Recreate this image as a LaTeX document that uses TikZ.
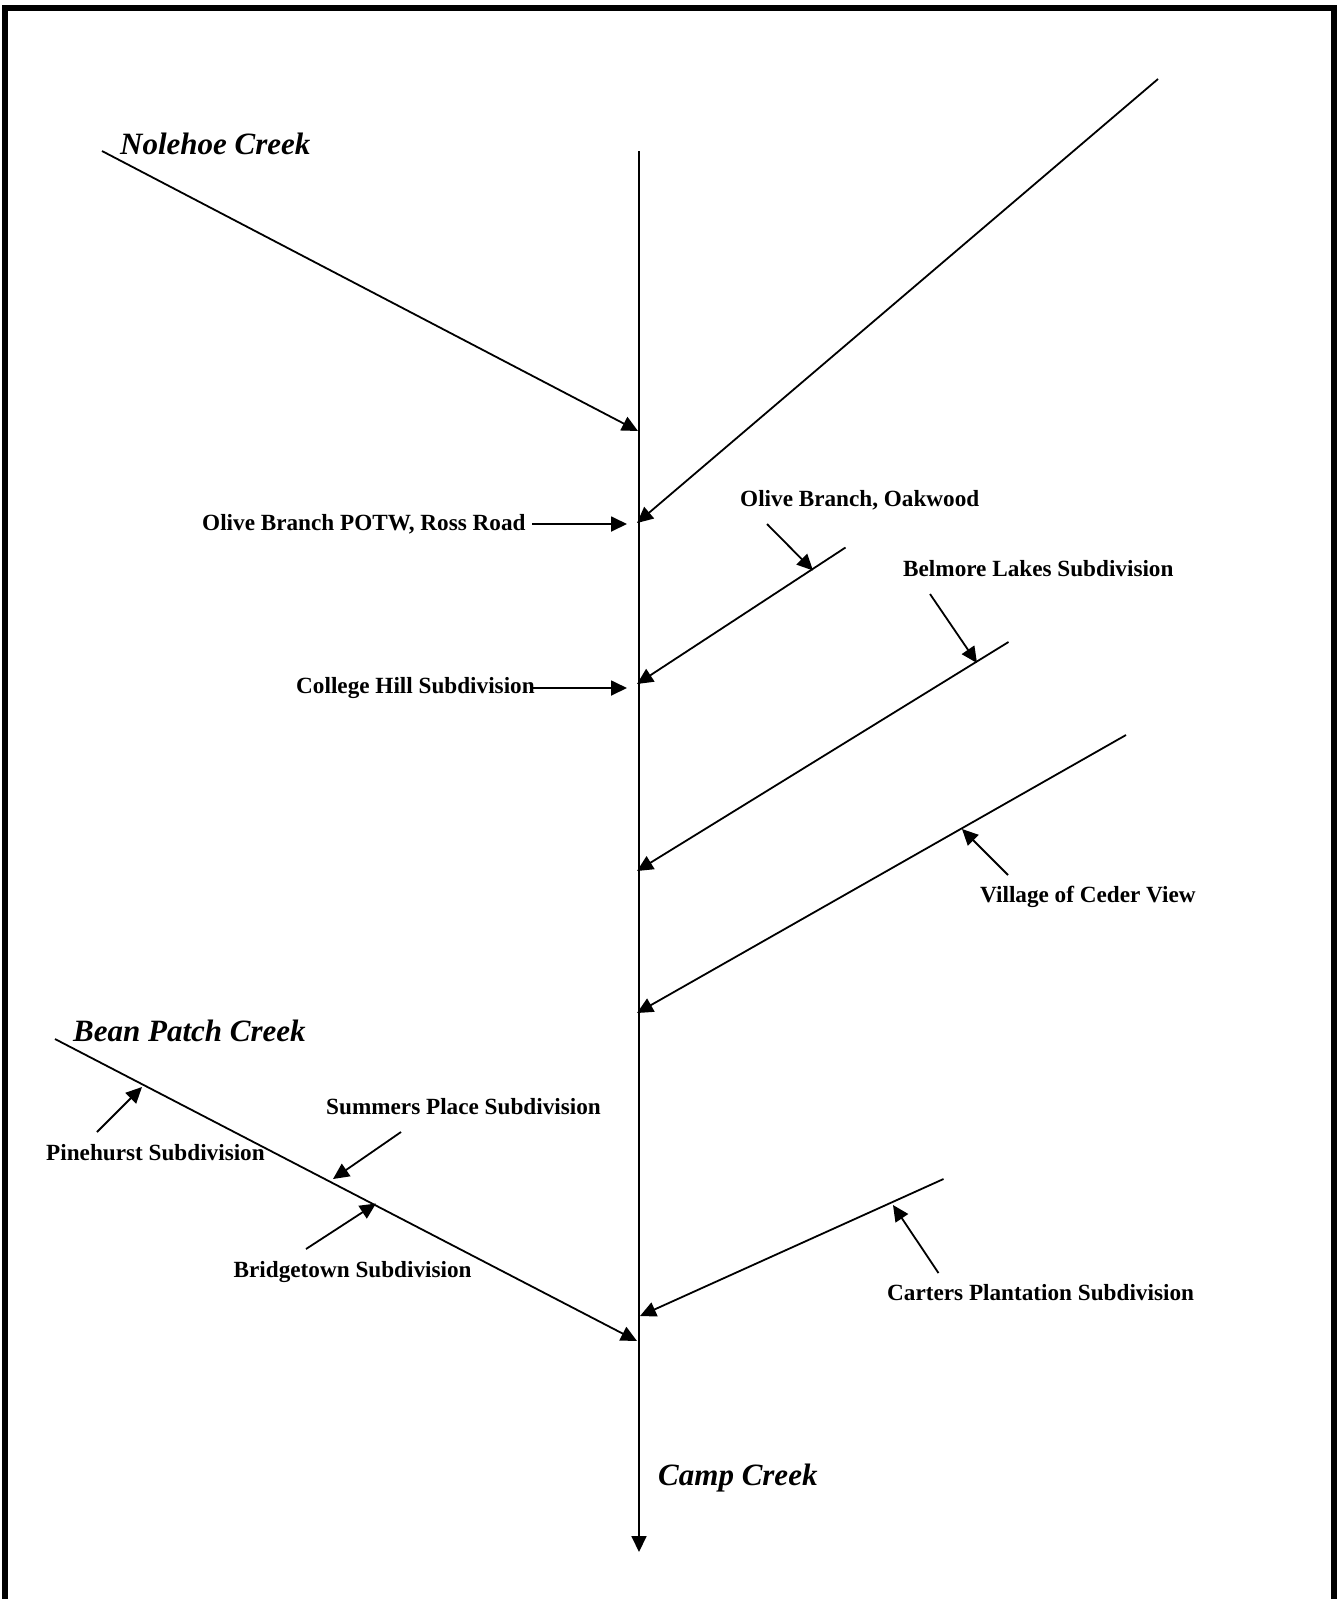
\documentclass[tikz,border=0pt]{standalone}
\usepackage{fontspec}
\setmainfont{Liberation Serif}
\usetikzlibrary{arrows.meta}
\begin{document}
\begin{tikzpicture}[x=1pt,y=-1pt,
  flow/.style={line width=1.8pt, -{Triangle[length=16pt,width=15pt]}},
  lbl/.style={font=\bfseries\fontsize{23.2}{28}\selectfont, inner sep=0pt, anchor=base west},
  creek/.style={font=\bfseries\itshape\fontsize{31}{36}\selectfont, inner sep=0pt, anchor=base west}]
\useasboundingbox (0,0) rectangle (1340,1599);
\draw[line width=6pt] (5,1640) -- (5,7.5) -- (1333.5,7.5) -- (1333.5,1640);

% main stem
\coordinate (top) at (639,151);
\coordinate (bot) at (639,1552);
\draw[flow] (top) -- (bot);

% junction points
\coordinate (j1) at (638,431);
\coordinate (j2) at (637,523);
\coordinate (j3) at (637,684);
\coordinate (j4) at (637,871);
\coordinate (j5) at (637,1013);
\coordinate (j7) at (640,1316);
\coordinate (j6) at (637,1341);

% tributary sources
\coordinate (n0) at (102,151);
\coordinate (ne0) at (1158,79);
\coordinate (o0) at (845.5,547.5);
\coordinate (b0) at (1008.5,642);
\coordinate (v0) at (1126,735);
\coordinate (bp0) at (55,1039);
\coordinate (ca0) at (943.5,1179);

\draw[flow] (n0) -- (j1);
\draw[flow] (ne0) -- (j2);
\draw[flow] (o0) -- (j3);
\draw[flow] (b0) -- (j4);
\draw[flow] (v0) -- (j5);
\draw[flow] (bp0) -- (j6);
\draw[flow] (ca0) -- (j7);

% labels
\node[creek] (nole) at (120,154) {Nolehoe Creek};
\node[creek] (bean) at (73,1041) {Bean Patch Creek};
\node[creek] (camp) at (658,1485) {Camp Creek};

\node[lbl] (potw) at (202,530) {Olive Branch POTW, Ross Road};
\node[lbl] (chill) at (296,693.3) {College Hill Subdivision};
\node[lbl] (oak) at (740,506) {Olive Branch, Oakwood};
\node[lbl] (belm) at (903,576.7) {Belmore Lakes Subdivision};
\node[lbl] (vill) at (980,902.7) {Village of Ceder View};
\node[lbl] (cart) at (887,1300.7) {Carters Plantation Subdivision};
\node[lbl] (summ) at (326,1114) {Summers Place Subdivision};
\node[lbl] (pine) at (46,1160.5) {Pinehurst Subdivision};
\node[lbl] (brid) at (233.5,1277) {Bridgetown Subdivision};

% label arrows
\coordinate (p0) at (532,524);   \coordinate (p1) at (627,524);
\coordinate (c0) at (533,688);   \coordinate (c1) at (627,688);
\coordinate (oa0) at (767,524);  \coordinate (oa1) at (813,570.5);
\coordinate (ba0) at (930,594);  \coordinate (ba1) at (977,663);
\coordinate (va0) at (1008,875); \coordinate (va1) at (962,829);
\coordinate (cl0) at (938.5,1273); \coordinate (cl1) at (893,1205);
\coordinate (pa0) at (97,1132);  \coordinate (pa1) at (142,1087);
\coordinate (sa0) at (401,1132); \coordinate (sa1) at (333,1179);
\coordinate (bra0) at (306,1249); \coordinate (bra1) at (376,1203.5);

\draw[flow] (p0) -- (p1);
\draw[flow] (c0) -- (c1);
\draw[flow] (oa0) -- (oa1);
\draw[flow] (ba0) -- (ba1);
\draw[flow] (va0) -- (va1);
\draw[flow] (cl0) -- (cl1);
\draw[flow] (pa0) -- (pa1);
\draw[flow] (sa0) -- (sa1);
\draw[flow] (bra0) -- (bra1);
\end{tikzpicture}
\end{document}
